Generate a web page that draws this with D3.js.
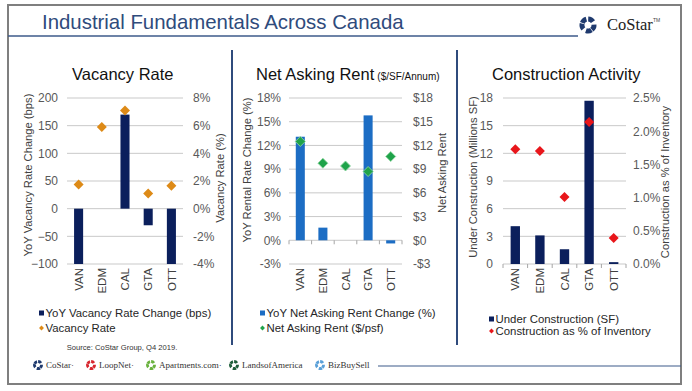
<!DOCTYPE html>
<html><head><meta charset="utf-8">
<script src="https://cdn.jsdelivr.net/npm/d3@7"></script>
<style>
html,body{margin:0;padding:0;background:#fff;}
svg{display:block;}
text{font-family:"Liberation Sans",Arial,Helvetica,sans-serif;}
</style>
</head><body>
<svg id="c" width="692" height="391"></svg>
<script>
// ---------- data ----------
const categories = ["VAN", "EDM", "CAL", "GTA", "OTT"];
const vacancyChangeBps = [-100, 0, 170, -30, -100];
const vacancyRatePct = [1.75, 5.9, 7.1, 1.1, 1.65];
const rentChangePct = [13.1, 1.6, 0, 15.8, -0.4];
const netAskingRent = [12.5, 9.75, 9.4, 8.7, 10.6];
const underConstructionMSF = [4.1, 3.1, 1.6, 17.7, 0.2];
const constructionPctInventory = [1.73, 1.70, 1.01, 2.14, 0.39];

const vacancyLeftTicks = [-100, -50, 0, 50, 100, 150, 200];
const vacancyRightTicks = [-4, -2, 0, 2, 4, 6, 8];
const rentLeftTicks = [-3, 0, 3, 6, 9, 12, 15, 18];
const rentRightTicks = [-3, 0, 3, 6, 9, 12, 15, 18];
const constrLeftTicks = [0, 3, 6, 9, 12, 15, 18];
const constrRightTicks = [0, 0.5, 1, 1.5, 2, 2.5];

const footerBrands = ["CoStar", "LoopNet", "Apartments.com", "LandsofAmerica", "BizBuySell"];

// ---------- drawing ----------
const svg = d3.select("#c");
svg.append("rect").attr("width", 692).attr("height", 391).attr("fill", "#fff");
// outer frame
svg.append("rect").attr("x", 8).attr("y", 5).attr("width", 673).attr("height", 379)
  .attr("fill", "none").attr("stroke", "#7f7f7f").attr("stroke-width", 2);

// header
svg.append("text").attr("x", 42).attr("y", 28.5)
  .attr("font-size", 20.4).attr("fill", "#2f4b7c")
  .text("Industrial Fundamentals Across Canada");
svg.append("line").attr("x1", 8).attr("x2", 578).attr("y1", 36).attr("y2", 36)
  .attr("stroke", "#3d5a8a").attr("stroke-width", 1.5);

function logoIcon(g, cx, cy, r, color) {
  const arc = d3.arc().innerRadius(r * 0.42).outerRadius(r);
  for (let i = 0; i < 5; i++) {
    const a0 = (i * 72 + 8) * Math.PI / 180, a1 = (i * 72 + 62) * Math.PI / 180;
    g.append("path").attr("d", arc({startAngle: a0, endAngle: a1}))
      .attr("transform", `translate(${cx},${cy}) rotate(${i % 2 ? 6 : -6})`)
      .attr("fill", color);
  }
}
logoIcon(svg, 588, 25, 8.5, "#1f3a6e");
svg.append("text").attr("x", 607).attr("y", 30).attr("font-size", 16.5)
  .style("font-family", "'Liberation Serif','Times New Roman',serif").attr("fill", "#222").text("CoStar");
svg.append("text").attr("x", 653).attr("y", 22).attr("font-size", 5)
  .attr("fill", "#444").text("TM");

// dividers
[232, 457].forEach(x => svg.append("line").attr("x1", x).attr("x2", x).attr("y1", 50).attr("y2", 345)
  .attr("stroke", "#2f4b7c").attr("stroke-width", 2));

const yTop = 98, yBot = 264;
const gridColor = "#c9c9c9", tickColor = "#595959";

function diamond(g, x, y, s, fill, stroke) {
  g.append("path").attr("d", d3.symbol(d3.symbolSquare, s)())
    .attr("transform", `translate(${x},${y}) rotate(45)`)
    .attr("fill", fill).attr("stroke", stroke || "none").attr("stroke-width", stroke ? 0.8 : 0);
}

function panel(o) {
  const g = svg.append("g");
  const x = d3.scaleBand().domain(categories).range([o.x0, o.x1]);
  const yL = d3.scaleLinear().domain(o.leftDomain).range([yBot, yTop]).clamp(true);
  const yR = d3.scaleLinear().domain(o.rightDomain).range([yBot, yTop]).clamp(true);

  // title
  const t = g.append("text").attr("x", o.titleX).attr("y", 80).attr("font-size", 16.5).attr("fill", "#111");
  t.append("tspan").text(o.title);
  if (o.subtitle) t.append("tspan").attr("font-size", 10).attr("dx", 3).text(o.subtitle);

  // gridlines
  g.selectAll(".grid").data(o.leftTicks).enter().append("line")
    .attr("x1", o.x0).attr("x2", o.x1).attr("y1", d => yL(d)).attr("y2", d => yL(d))
    .attr("stroke", gridColor).attr("stroke-width", 1);

  // axes
  const la = g.append("g").attr("transform", `translate(${o.x0},0)`)
    .call(d3.axisLeft(yL).tickValues(o.leftTicks).tickSize(0).tickPadding(o.leftPad).tickFormat(o.leftFmt));
  const ra = g.append("g").attr("transform", `translate(${o.x1},0)`)
    .call(d3.axisRight(yR).tickValues(o.rightTicks).tickSize(0).tickPadding(o.rightPad).tickFormat(o.rightFmt));
  [la, ra].forEach(a => {
    a.select(".domain").remove();
    a.selectAll("text").attr("font-size", 12).attr("fill", tickColor)
      .style("font-family", "'Liberation Sans',Arial,sans-serif");
  });

  // zero axis ticks
  if (o.zeroTicks) {
    const y0 = yL(0);
    const step = x.step();
    g.selectAll(".zt").data(d3.range(categories.length + 1)).enter().append("line")
      .attr("x1", i => o.x0 + i * step).attr("x2", i => o.x0 + i * step)
      .attr("y1", y0).attr("y2", y0 + 4).attr("stroke", "#a6a6a6");
  }

  // bars
  const bw = x.bandwidth() * o.barFrac;
  g.selectAll(".bar").data(o.bars.map((v, i) => ({c: categories[i], v}))).enter().append("rect")
    .attr("x", d => x(d.c) + (x.bandwidth() - bw) / 2)
    .attr("width", bw)
    .attr("y", d => yL(Math.max(0, d.v)))
    .attr("height", d => Math.abs(yL(d.v) - yL(0)))
    .attr("fill", o.barColor);

  // points
  o.points.forEach((v, i) => diamond(g, x(categories[i]) + x.bandwidth() / 2, yR(v), 50, o.pointColor, o.pointStroke));

  // category labels
  categories.forEach(c => {
    g.append("text").attr("transform", `translate(${x(c) + x.bandwidth() / 2},268) rotate(-90)`)
      .attr("text-anchor", "end").attr("dy", "0.36em").attr("font-size", 11.5).attr("fill", "#404040").text(c);
  });

  // axis titles
  g.append("text").attr("transform", `translate(${o.leftTitleX},${o.leftTitleY}) rotate(-90)`)
    .attr("text-anchor", "middle").attr("dy", "0.35em").attr("font-size", 11.2).attr("fill", "#404040").text(o.leftTitle);
  g.append("text").attr("transform", `translate(${o.rightTitleX},${o.rightTitleY}) rotate(-90)`)
    .attr("text-anchor", "middle").attr("dy", "0.35em").attr("font-size", 11.2).attr("fill", "#404040").text(o.rightTitle);

  // legend
  const lg = g.append("g");
  lg.append("rect").attr("x", o.legX - 5).attr("y", o.legY1 - 2.5).attr("width", 5).attr("height", 5).attr("fill", o.barColor);
  lg.append("text").attr("x", o.legX + 1.5).attr("y", o.legY1).attr("dy", "0.35em").attr("font-size", 11.4).attr("fill", "#262626").text(o.leg1);
  diamond(lg, o.legX - 2.5, o.legY2, 12, o.pointColor);
  lg.append("text").attr("x", o.legX + 1.5).attr("y", o.legY2).attr("dy", "0.35em").attr("font-size", 11.4).attr("fill", "#262626").text(o.leg2);
}

panel({
  x0: 67, x1: 183, leftDomain: [-100, 200], rightDomain: [-4, 8],
  leftTicks: vacancyLeftTicks, rightTicks: vacancyRightTicks,
  leftFmt: d => d3.format("d")(d), rightFmt: d => d + "%",
  leftPad: 9, rightPad: 10,
  bars: vacancyChangeBps, points: vacancyRatePct, barFrac: 0.39,
  barColor: "#0b1f5c", pointColor: "#dd8a17",
  title: "Vacancy Rate", titleX: 72,
  leftTitle: "YoY Vacancy Rate Change (bps)", leftTitleX: 28, leftTitleY: 175,
  rightTitle: "Vacancy Rate (%)", rightTitleX: 220, rightTitleY: 178,
  zeroTicks: false,
  legX: 44, legY1: 313, legY2: 328,
  leg1: "YoY Vacancy Rate Change (bps)", leg2: "Vacancy Rate"
});

panel({
  x0: 289, x1: 402, leftDomain: [-3, 18], rightDomain: [-3, 18],
  leftTicks: rentLeftTicks, rightTicks: rentRightTicks,
  leftFmt: d => d + "%", rightFmt: d => (d < 0 ? "-$" : "$") + Math.abs(d),
  leftPad: 8, rightPad: 11,
  bars: rentChangePct, points: netAskingRent, barFrac: 0.4,
  barColor: "#1c6dc4", pointColor: "#1fa34a", pointStroke: "#8fd6a0",
  title: "Net Asking Rent", subtitle: "($/SF/Annum)", titleX: 256,
  leftTitle: "YoY Rental Rate Change (%)", leftTitleX: 247, leftTitleY: 170,
  rightTitle: "Net Asking Rent", rightTitleX: 442, rightTitleY: 173,
  zeroTicks: true,
  legX: 265, legY1: 313, legY2: 328,
  leg1: "YoY Net Asking Rent Change (%)", leg2: "Net Asking Rent ($/psf)"
});

panel({
  x0: 503, x1: 626, leftDomain: [0, 18], rightDomain: [0, 2.5],
  leftTicks: constrLeftTicks, rightTicks: constrRightTicks,
  leftFmt: d => d, rightFmt: d => d3.format(".1f")(d) + "%",
  leftPad: 10, rightPad: 7,
  bars: underConstructionMSF, points: constructionPctInventory, barFrac: 0.38,
  barColor: "#0b1f5c", pointColor: "#e8161b",
  title: "Construction Activity", titleX: 492,
  leftTitle: "Under Construction (Millions SF)", leftTitleX: 473, leftTitleY: 177,
  rightTitle: "Construction as % of Inventory", rightTitleX: 665, rightTitleY: 182,
  zeroTicks: true,
  legX: 494, legY1: 319, legY2: 331,
  leg1: "Under Construction (SF)", leg2: "Construction as % of Inventory"
});

// source
svg.append("text").attr("x", 122).attr("y", 347).attr("dy", "0.35em").attr("text-anchor", "middle")
  .attr("font-size", 7.6).attr("fill", "#333").text("Source: CoStar Group, Q4 2019.");

// footer brands
const brandColors = ["#1f3a6e", "#d7262e", "#6ab23e", "#1e5e3a", "#5aa0d8"];
const brandIconX = [38, 91, 151, 234, 320];
footerBrands.forEach((b, i) => {
  logoIcon(svg, brandIconX[i], 365, 5, brandColors[i]);
  svg.append("text").attr("x", brandIconX[i] + 8).attr("y", 365).attr("dy", "0.35em")
    .attr("font-size", 9).style("font-family", "'Liberation Serif','Times New Roman',serif")
    .attr("fill", "#333").text(b + (i < 3 ? "\u00b7" : ""));
});
svg.append("line").attr("x1", 378).attr("x2", 681).attr("y1", 366).attr("y2", 366)
  .attr("stroke", "#3d5a8a").attr("stroke-width", 1.2);
</script>
</body></html>
